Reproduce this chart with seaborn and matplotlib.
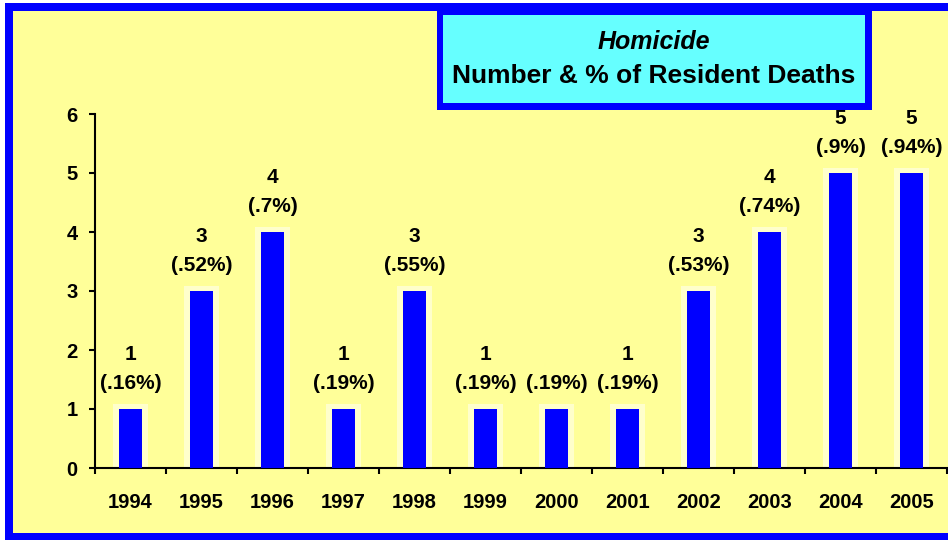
import numpy as np
import pandas as pd
import matplotlib
matplotlib.use('Agg')
import matplotlib.pyplot as plt
from matplotlib.patches import Rectangle
import seaborn as sns

'''Dados do grafico'''
years = ['1994', '1995', '1996', '1997', '1998', '1999',
         '2000', '2001', '2002', '2003', '2004', '2005']
deaths = [1, 3, 4, 1, 3, 1, 1, 1, 3, 4, 5, 5]
count_labels = ['1', '3', '4', '1', '3', '1', '', '1', '3', '4', '5', '5']
pct_labels = ['(.16%)', '(.52%)', '(.7%)', '(.19%)', '(.55%)', '(.19%)',
              '(.19%)', '(.19%)', '(.53%)', '(.74%)', '(.9%)', '(.94%)']

df = pd.DataFrame({'ano': years, 'mortes': deaths})
df['halo'] = df['mortes'] + 0.09

sns.set_style('ticks')
plt.rcParams['font.family'] = ['Liberation Sans', 'DejaVu Sans']
plt.rcParams['font.weight'] = 'bold'
plt.rcParams['text.color'] = 'black'
plt.rcParams['xtick.color'] = 'black'
plt.rcParams['ytick.color'] = 'black'
plt.rcParams['axes.edgecolor'] = 'black'

W, H = 948, 540
fig = plt.figure(figsize=(W / 100, H / 100), dpi=100)
fig.patch.set_facecolor('white')

'''Moldura azul e fundo amarelo'''
fig.add_artist(Rectangle((5 / W, 0), 1, (H - 3) / H, transform=fig.transFigure,
                         facecolor='#0000FF', edgecolor='none', zorder=-20))
fig.add_artist(Rectangle((13 / W, 7 / H), 1, (H - 11 - 7) / H, transform=fig.transFigure,
                         facecolor='#FFFF99', edgecolor='none', zorder=-19))

ax = fig.add_axes([95 / W, 72 / H, 852 / W, 354 / H])
ax.set_facecolor('none')

sns.barplot(data=df, x='ano', y='halo', color='#FFFFCC', width=0.48,
            saturation=1, linewidth=0, ax=ax, zorder=2)
sns.barplot(data=df, x='ano', y='mortes', color='#0000FF', width=0.33,
            saturation=1, linewidth=0, ax=ax, zorder=3)

for i, v in enumerate(deaths):
    ax.text(i, v + 0.44, pct_labels[i], ha='center', va='center',
            fontsize=15, fontweight='bold', color='black', clip_on=False, zorder=4)
    if count_labels[i]:
        ax.text(i, v + 0.93, count_labels[i], ha='center', va='center',
                fontsize=15, fontweight='bold', color='black', clip_on=False, zorder=4)

ax.set_ylim(0, 6)
ax.set_xlim(-0.5, len(years) - 0.5)
ax.set_yticks(range(0, 7))
ax.set_xlabel('')
ax.set_ylabel('')
ax.set_xticks(np.arange(-0.5, len(years), 1), minor=True)
ax.tick_params(axis='x', which='major', length=0, pad=18, labelsize=14.5, labelcolor='black')
ax.tick_params(axis='x', which='minor', length=4, width=1.5, direction='out', color='black')
ax.tick_params(axis='y', length=4.5, width=1.5, pad=8, labelsize=14.5, color='black',
               labelcolor='black')
for lab in ax.get_xticklabels() + ax.get_yticklabels():
    lab.set_fontweight('bold')
sns.despine(ax=ax)
ax.spines['left'].set_linewidth(1.5)
ax.spines['bottom'].set_linewidth(1.5)

'''Caixa do titulo'''
fig.add_artist(Rectangle((437 / W, (H - 110) / H), 435 / W, 107 / H, transform=fig.transFigure,
                         facecolor='#0000FF', edgecolor='none', zorder=5))
fig.add_artist(Rectangle((443 / W, (H - 103) / H), 422 / W, 88 / H, transform=fig.transFigure,
                         facecolor='#66FFFF', edgecolor='none', zorder=6))
fig.text(654 / W, (H - 42) / H, 'Homicide', ha='center', va='center', fontsize=18,
         fontweight='bold', fontstyle='italic', color='black', zorder=7)
fig.text(654 / W, (H - 76) / H, 'Number & % of Resident Deaths', ha='center', va='center',
         fontsize=19, fontweight='bold', color='black', zorder=7)

fig.savefig('out.png', dpi=100)
